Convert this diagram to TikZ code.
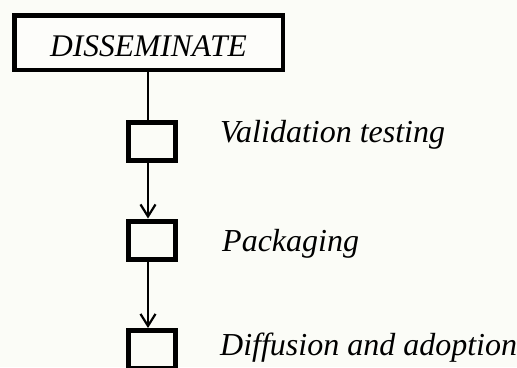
\documentclass[tikz,border=0pt]{standalone}
\usepackage{fontspec}
\setmainfont{Liberation Serif}
\usetikzlibrary{arrows.meta}
\definecolor{bgpaper}{RGB}{251,252,247}
\tikzset{
  titlebox/.style={draw=black, line width=4.5pt, fill=white!40!bgpaper, minimum width=268.5pt, minimum height=54.5pt, inner sep=0pt, text height=27pt, text depth=0pt, font=\fontsize{31.5}{36}\selectfont\itshape},
  stepsq/.style={draw=black, line width=5pt, minimum width=47pt, minimum height=38pt, inner sep=0pt},
  steplabel/.style={anchor=base west, inner sep=0pt, font=\fontsize{32}{38}\selectfont\itshape},
  link/.style={draw=black, line width=2.2pt},
  arrowlink/.style={link, -{Straight Barb[length=12pt,width=15pt,line width=2.2pt]}}
}
\begin{document}
\begin{tikzpicture}[x=1pt,y=-1pt]
\useasboundingbox (0,0) rectangle (517,367);
\fill[bgpaper] (0,0) rectangle (517,367);
\begin{scope}
\clip (0,0) rectangle (517,367);
\node[titlebox] (dis) at (148.5,42.5) {DISSEMINATE};
\node[stepsq] (s1) at (152,141.5) {};
\node[stepsq] (s2) at (152,240) {};
\node[stepsq] (s3) at (152,349.5) {};
\coordinate (lx) at (148,0);
\draw[link] (dis.south -| lx) -- (s1.north -| lx);
\draw[arrowlink] (s1.south -| lx) -- (s2.north -| lx);
\draw[arrowlink] (s2.south -| lx) -- (s3.north -| lx);
\end{scope}
\node[steplabel] (t1) at (220,142) {Validation testing};
\node[steplabel] (t2) at (222,251) {Packaging};
\node[steplabel] (t3) at (220,355) {Diffusion and adoption};
\end{tikzpicture}
\end{document}
